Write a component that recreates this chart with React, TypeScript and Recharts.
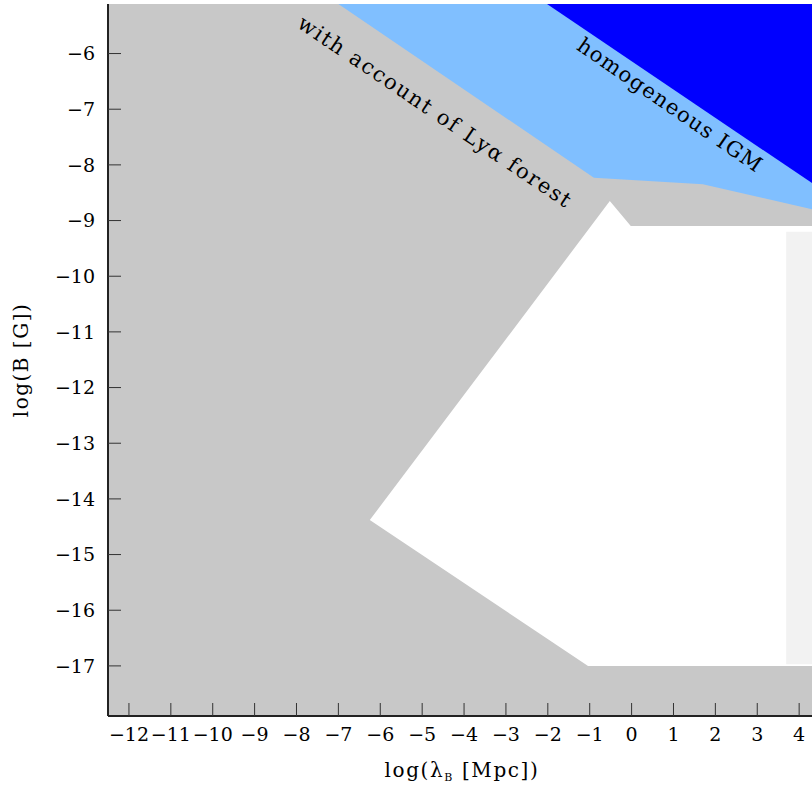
import { ComposedChart, Scatter, XAxis, YAxis, CartesianGrid, ReferenceDot } from 'recharts';

const X_TICKS = [-12, -11, -10, -9, -8, -7, -6, -5, -4, -3, -2, -1, 0, 1, 2, 3, 4];
const Y_TICKS = [-17, -16, -15, -14, -13, -12, -11, -10, -9, -8, -7, -6];
const X_DOMAIN = [-12.5, 4.45];
const Y_DOMAIN = [-17.9, -5.11];

// region excluded with account of the Lyman-alpha forest
const lyaForest = [
    { x: -7.0, y: -5.11 },
    { x: -0.9, y: -8.23 },
    { x: 1.7, y: -8.35 },
    { x: 4.45, y: -8.82 },
    { x: 4.45, y: -5.11 },
];

// region excluded for a homogeneous IGM
const homogeneousIgm = [
    { x: -2.02, y: -5.11 },
    { x: 4.45, y: -8.4 },
    { x: 4.45, y: -5.11 },
];

// allowed window
const allowedRegion = [
    { x: -6.25, y: -14.38 },
    { x: -0.52, y: -8.65 },
    { x: -0.02, y: -9.1 },
    { x: 4.45, y: -9.1 },
    { x: 4.45, y: -17.0 },
    { x: -1.04, y: -17.0 },
];

// faint band on the right edge
const rightBand = [
    { x: 3.69, y: -9.2 },
    { x: 4.45, y: -9.2 },
    { x: 4.45, y: -16.97 },
    { x: 3.69, y: -16.97 },
];

const SERIF = '"DejaVu Serif", serif';
const TICK_STYLE = { fill: '#000', fontSize: 19, fontFamily: SERIF };
const AXIS_LINE = { stroke: '#222', strokeWidth: 2 };
const TICK_LINE = { stroke: '#333', strokeWidth: 1 };

const fmt = (v: number) => (v < 0 ? `\u2212${Math.abs(v)}` : `${v}`);
const hidden = () => <g />;

function RotatedText(text: string, angle: number, spacing: number) {
    return (p: any) => (
        <text
            x={p.cx}
            y={p.cy}
            transform={`rotate(${angle} ${p.cx} ${p.cy})`}
            textAnchor="middle"
            dominantBaseline="central"
            fontFamily={SERIF}
            fontSize={21}
            letterSpacing={spacing}
            fill="#000"
        >
            {text}
        </text>
    );
}

export default function App() {
    return (
        <div style={{ position: 'absolute', top: 0, left: 8, width: 804, height: 796, overflow: 'hidden' }}>
            <ComposedChart width={810} height={790} margin={{ top: 4, right: 0, bottom: 0, left: 0 }}>
                <CartesianGrid fill="#c8c8c8" stroke="none" horizontal={false} vertical={false} />
                <Scatter data={lyaForest} zIndex={10} isAnimationActive={false} shape={hidden} lineType="joint" line={{ fill: '#80bfff', stroke: 'none' }} />
                <Scatter data={homogeneousIgm} zIndex={11} isAnimationActive={false} shape={hidden} lineType="joint" line={{ fill: '#0000ff', stroke: 'none' }} />
                <Scatter data={allowedRegion} zIndex={12} isAnimationActive={false} shape={hidden} lineType="joint" line={{ fill: '#ffffff', stroke: 'none' }} />
                <Scatter data={rightBand} zIndex={13} isAnimationActive={false} shape={hidden} lineType="joint" line={{ fill: '#f2f2f2', stroke: 'none' }} />
                <ReferenceDot x={-4.69} y={-7.05} r={0} zIndex={900} shape={RotatedText('with account of Lyα forest', 34, 1.8)} />
                <ReferenceDot x={0.92} y={-6.93} r={0} zIndex={900} shape={RotatedText('homogeneous IGM', 34.5, 1.3)} />
                <XAxis
                    dataKey="x"
                    type="number"
                    domain={X_DOMAIN}
                    allowDataOverflow
                    ticks={X_TICKS}
                    interval={0}
                    height={74}
                    tickSize={-13}
                    tickMargin={25}
                    tick={TICK_STYLE}
                    tickFormatter={fmt}
                    axisLine={AXIS_LINE}
                    tickLine={TICK_LINE}
                    label={{
                        content: ({ viewBox }: any) => (
                            <text x={viewBox.x + viewBox.width / 2 - 1} y={viewBox.y + 61} textAnchor="middle" fontFamily={SERIF} fontSize={20} letterSpacing={1.6} fill="#000">
                                log(λ<tspan fontSize={11} dy={4}>B</tspan>
                                <tspan dy={-4}> [Mpc])</tspan>
                            </text>
                        ),
                    }}
                />
                <XAxis
                    xAxisId="top"
                    orientation="top"
                    type="number"
                    domain={X_DOMAIN}
                    allowDataOverflow
                    ticks={X_TICKS}
                    interval={0}
                    height={0}
                    tickSize={-13}
                    tick={false}
                    axisLine={{ stroke: '#444', strokeWidth: 2 }}
                    tickLine={TICK_LINE}
                />
                <YAxis
                    dataKey="y"
                    type="number"
                    domain={Y_DOMAIN}
                    allowDataOverflow
                    ticks={Y_TICKS}
                    interval={0}
                    width={100}
                    tickSize={-13}
                    tickMargin={26}
                    tick={TICK_STYLE}
                    tickFormatter={fmt}
                    axisLine={AXIS_LINE}
                    tickLine={TICK_LINE}
                    label={{
                        content: ({ viewBox }: any) => {
                            const cx = 13;
                            const cy = viewBox.y + viewBox.height / 2;
                            return (
                                <text x={cx} y={cy} transform={`rotate(-90 ${cx} ${cy})`} textAnchor="middle" dominantBaseline="central" fontFamily={SERIF} fontSize={20} letterSpacing={1.5} fill="#000">
                                    log(B [G])
                                </text>
                            );
                        },
                    }}
                />
                <YAxis
                    yAxisId="right"
                    orientation="right"
                    type="number"
                    domain={Y_DOMAIN}
                    allowDataOverflow
                    ticks={Y_TICKS}
                    interval={0}
                    width={0}
                    tickSize={-13}
                    tick={false}
                    axisLine={AXIS_LINE}
                    tickLine={TICK_LINE}
                />
            </ComposedChart>
        </div>
    );
}
